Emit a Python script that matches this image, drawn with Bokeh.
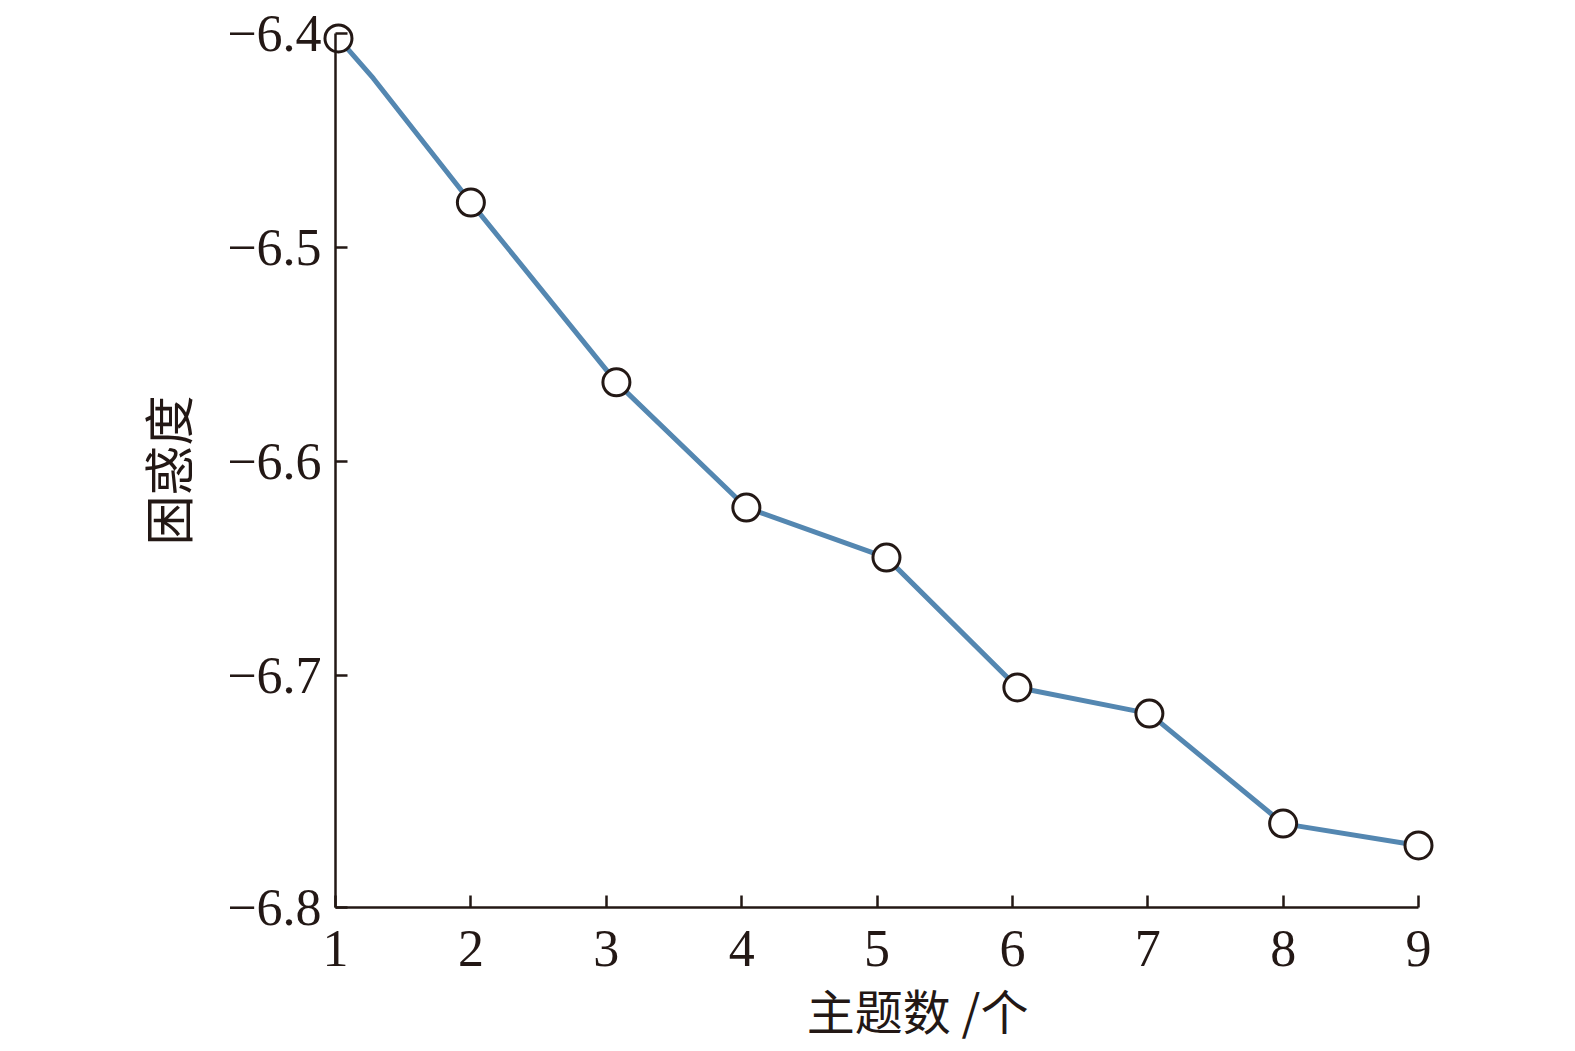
from bokeh.plotting import figure
from bokeh.models import Range1d, FixedTicker, ColumnDataSource, Label
from bokeh.embed import file_html
from bokeh.resources import INLINE

# ---- data ----
topics_x = [1.022, 2.0, 3.075, 4.035, 5.07, 6.037, 7.012, 8.0, 9.0]
perplexity = [-6.4023, -6.479, -6.563, -6.6215, -6.6449, -6.7056, -6.7178, -6.7692, -6.7794]
line_x = [1.022, 1.28, 2.0, 3.075, 4.035, 5.07, 6.037, 7.012, 8.0, 9.0]
line_y = [-6.4023, -6.421, -6.479, -6.563, -6.6215, -6.6449, -6.7056, -6.7178, -6.7692, -6.7794]
x_ticks = [1, 2, 3, 4, 5, 6, 7, 8, 9]
y_min = -6.8084
y_max = -6.4
y_ticks = [-6.4, -6.5, -6.6, -6.7, y_min]
y_tick_labels = ["−6.4", "−6.5", "−6.6", "−6.7", "−6.8"]
x_title = "主题数 /个"
y_title = "困惑度"

ink = "#231815"
serif = "Liberation Serif"
cjk = "Noto Sans CJK SC"

# frame covers the whole figure; axes are placed inside at data locations
W, H = 1559, 1043
ax_left, ax_right, ax_top, ax_bottom = 335, 1418, 33, 907   # figure px of the axes box
px_x = (ax_right - ax_left) / 8.0
px_y = (ax_bottom - ax_top) / (y_max - y_min)

p = figure(
    output_backend="svg", toolbar_location=None,
    frame_width=W, frame_height=H,
    x_range=Range1d(1 - ax_left / px_x, 9 + (W - ax_right) / px_x),
    y_range=Range1d(y_min - (H - ax_bottom) / px_y, y_max + ax_top / px_y),
    min_border=0,
)
p.outline_line_color = None
p.xgrid.visible = False
p.ygrid.visible = False
p.background_fill_color = "white"

for ax in (p.xaxis[0], p.yaxis[0]):
    ax.axis_line_color = ink
    ax.axis_line_width = 2.5
    ax.major_tick_line_color = ink
    ax.major_tick_line_width = 2.5
    ax.major_tick_in = 12
    ax.major_tick_out = 0
    ax.minor_tick_line_color = None
    ax.major_label_text_font = serif
    ax.major_label_text_font_size = "52px"
    ax.major_label_text_color = ink

p.xaxis.fixed_location = y_min
p.xaxis.bounds = (1, 9)
p.xaxis.ticker = FixedTicker(ticks=x_ticks)
p.xaxis.major_label_standoff = 23

p.yaxis.fixed_location = 1
p.yaxis.bounds = (y_min, y_max)
p.yaxis.ticker = FixedTicker(ticks=y_ticks)
p.yaxis.major_label_overrides = {t: l for t, l in zip(y_ticks, y_tick_labels)}
p.yaxis.major_label_standoff = 14
p.yaxis.axis_label = y_title
p.yaxis.axis_label_text_font = cjk
p.yaxis.axis_label_text_font_size = "50px"
p.yaxis.axis_label_text_font_style = "normal"
p.yaxis.axis_label_text_color = ink
p.yaxis.axis_label_standoff = 22

src = ColumnDataSource(dict(x=line_x, y=line_y))
p.line("x", "y", source=src, line_color="#5487b1", line_width=5)
p.scatter(topics_x, perplexity, size=27, fill_color="white", line_color=ink, line_width=3)

# x-axis title, placed below the axis in data space (frame spans the figure)
p.add_layout(Label(x=5.3, y=y_min, y_offset=-101, text=x_title, text_font=cjk,
                   text_font_size="48px", text_color=ink,
                   text_align="center", text_baseline="middle"))

open("out.html", "w").write(file_html(p, INLINE))
